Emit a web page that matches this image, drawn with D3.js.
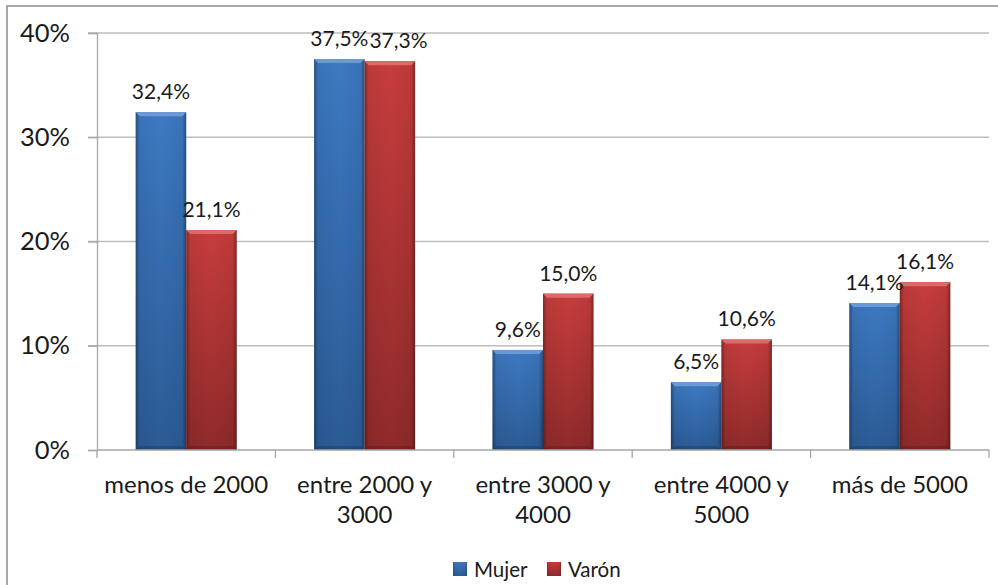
<!DOCTYPE html>
<html><head><meta charset="utf-8">
<script src="https://cdn.jsdelivr.net/npm/d3@7"></script>
<style>body{margin:0;background:#fff}svg{display:block;font-family:Lato,"Open Sans",sans-serif}</style>
</head><body>
<svg id="c" width="998" height="585"></svg>
<script>
const categories = [["menos de 2000"],["entre 2000 y","3000"],["entre 3000 y","4000"],["entre 4000 y","5000"],["más de 5000"]];
const seriesNames = ["Mujer","Varón"];
const mujer = [32.4, 37.5, 9.6, 6.5, 14.1];
const varon = [21.1, 37.3, 15.0, 10.6, 16.1];
const yTicks = [0,10,20,30,40];

const svg = d3.select("#c");
const L=97,R=989,T=33,B=450;
svg.append("rect").attr("x",7).attr("y",6).attr("width",1000).attr("height",600)
  .attr("fill","#fff").attr("stroke","#8c8c8c").attr("stroke-width",1.5);

const defs = svg.append("defs");
function grad(id, c1, c2){
  const g = defs.append("linearGradient").attr("id",id).attr("x1",0).attr("y1",0).attr("x2",0).attr("y2",1);
  g.append("stop").attr("offset","0%").attr("stop-color",c1);
  g.append("stop").attr("offset","100%").attr("stop-color",c2);
}
grad("gM","#3d79c1","#2b5b96");
grad("gV","#c63d3c","#8f2a2a");
const hg = defs.append("linearGradient").attr("id","edge").attr("x1",0).attr("y1",0).attr("x2",1).attr("y2",0);
[[0,0.35],[0.08,0.05],[0.5,0],[0.92,0.05],[1,0.35]].forEach(([o,a])=>hg.append("stop").attr("offset",o).attr("stop-color","#000").attr("stop-opacity",a));

const x = d3.scaleBand().domain(categories.map((d,i)=>i)).range([L,R]).padding(0);
const xs = d3.scaleBand().domain(seriesNames).range([0,x.bandwidth()]).paddingInner(0).paddingOuter(0.766);
const y = d3.scaleLinear().domain([0,40]).range([B,T]);

svg.append("g").selectAll("line").data(yTicks.filter(d=>d>0)).join("line")
  .attr("x1",L-9).attr("x2",R).attr("y1",d=>y(d)).attr("y2",d=>y(d))
  .attr("stroke","#bdbdbd").attr("stroke-width",1.3);

const yAxis = svg.append("g").attr("transform",`translate(${L},0)`)
  .call(d3.axisLeft(y).tickValues(yTicks).tickSize(9).tickFormat(d=>d+"%"));
yAxis.select(".domain").attr("stroke","#a6a6a6").attr("stroke-width",1.3);
yAxis.selectAll(".tick line").attr("stroke","#a6a6a6").attr("stroke-width",1.3);
yAxis.selectAll(".tick text").attr("x",-27).attr("font-size",25.5).attr("fill","#1a1a1a").attr("font-family","Lato");

const bars = svg.append("g");
const labels = svg.append("g");
const bw = xs.bandwidth();
categories.forEach((c,i)=>{
  const items = [{s:"Mujer",v:mujer[i],f:"url(#gM)",top:"#6a9ad6"},{s:"Varón",v:varon[i],f:"url(#gV)",top:"#dc6a68"}];
  const texts = [];
  items.forEach(d=>{
    const bx = x(i)+xs(d.s), by=y(d.v), bh=B-by;
    bars.append("rect").attr("x",bx).attr("y",by).attr("width",bw).attr("height",bh).attr("fill",d.f);
    bars.append("rect").attr("x",bx).attr("y",by).attr("width",bw).attr("height",bh).attr("fill","url(#edge)");
    bars.append("path").attr("d",`M${bx},${by}L${bx+bw},${by}L${bx+bw-4},${by+4}L${bx+4},${by+4}Z`).attr("fill",d.top);
    bars.append("path").attr("d",`M${bx},${B}L${bx+bw},${B}L${bx+bw-4},${B-4}L${bx+4},${B-4}Z`).attr("fill","#000").attr("opacity",0.15);
    const t = labels.append("text").attr("x",bx+bw/2).attr("y",by-13).attr("text-anchor","middle")
      .attr("font-size",21).attr("fill","#1a1a1a").text(d.v.toFixed(1).replace(".",",")+"%");
    texts.push({t,cx:bx+bw/2,by});
  });
  // nudge the second label right if both labels sit on the same line and touch
  const [a,b] = texts;
  if (Math.abs(a.by-b.by) < 18) {
    const wa = a.t.node().getComputedTextLength(), wb = b.t.node().getComputedTextLength();
    const overlap = (a.cx+wa/2) - (b.cx-wb/2);
    if (overlap > 0) b.t.attr("x", b.cx+overlap+1);
  }
});

svg.append("line").attr("x1",L).attr("x2",R).attr("y1",B).attr("y2",B).attr("stroke","#a6a6a6").attr("stroke-width",1.3);
const bounds = categories.map((c,i)=>x(i)).concat([R]);
svg.append("g").selectAll("line").data(bounds).join("line")
  .attr("x1",d=>d).attr("x2",d=>d).attr("y1",B).attr("y2",B+8).attr("stroke","#a6a6a6").attr("stroke-width",1.3);
categories.forEach((c,i)=>{
  const t = svg.append("text").attr("x",x(i)+x.bandwidth()/2).attr("y",493).attr("text-anchor","middle")
    .attr("font-size",24).attr("fill","#1a1a1a");
  c.forEach((line,j)=>t.append("tspan").attr("x",x(i)+x.bandwidth()/2).attr("dy",j?30:0).text(line));
});

const leg = svg.append("g");
const legItems = [{n:"Mujer",f:"url(#gM)",x:453},{n:"Varón",f:"url(#gV)",x:547}];
legItems.forEach(l=>{
  leg.append("rect").attr("x",l.x).attr("y",562).attr("width",14).attr("height",14).attr("fill",l.f);
  leg.append("rect").attr("x",l.x).attr("y",562).attr("width",14).attr("height",14).attr("fill","url(#edge)");
  leg.append("text").attr("x",l.x+21).attr("y",577).attr("font-size",20.5).attr("fill","#1a1a1a").text(l.n);
});
</script>
</body></html>
